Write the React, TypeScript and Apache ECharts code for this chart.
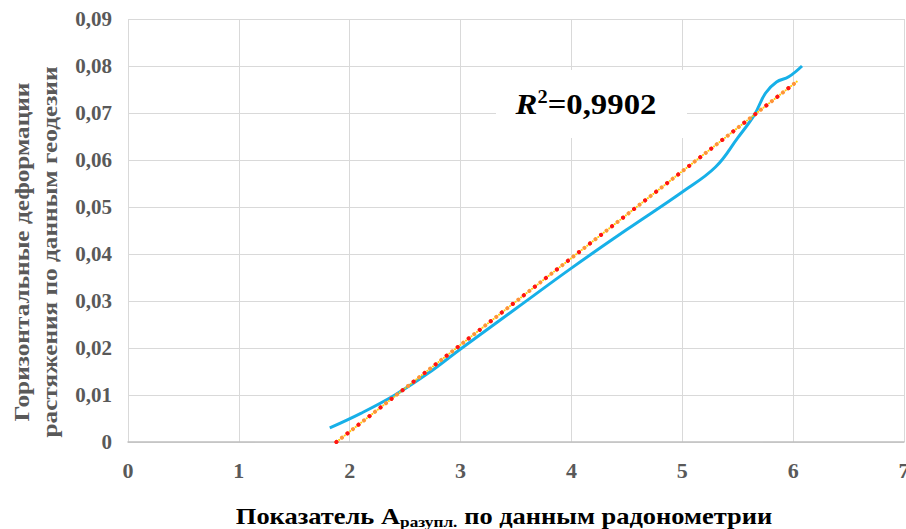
import React, { useEffect, useRef } from "react";
import * as echarts from "echarts";

const xTicks = [0, 1, 2, 3, 4, 5, 6, 7];
const yTicks = [0, 0.01, 0.02, 0.03, 0.04, 0.05, 0.06, 0.07, 0.08, 0.09];

// Measured curve (radiometry index vs. horizontal deformation)
const curveX = [1.82, 2.1, 2.4, 2.7, 3.0, 3.5, 4.0, 4.5, 5.0, 5.3, 5.5, 5.65, 5.75, 5.85, 5.96, 6.08];
const curveY = [0.003, 0.0061, 0.0099, 0.0145, 0.0198, 0.0284, 0.037, 0.0452, 0.0532, 0.0585, 0.0647, 0.0696, 0.0742, 0.0766, 0.0777, 0.08];

// Linear trend line end points
const trendX = [1.88, 6.05];
const trendY = [0, 0.077];

const r2Text = "0,9902";

const FONT = "Liberation Serif";

export default function App() {
  const ref = useRef<HTMLDivElement>(null);
  useEffect(() => {
    if (!ref.current) return;
    const chart = echarts.init(ref.current, null, { renderer: "svg" });
    const curve = curveX.map((x, i) => [x, curveY[i]]);
    const trend = trendX.map((x, i) => [x, trendY[i]]);
    chart.setOption({
      animation: false,
      backgroundColor: "#ffffff",
      grid: { left: 128, right: 2, top: 19, bottom: 87, outerBoundsMode: "none", containLabel: false },
      xAxis: {
        type: "value",
        min: xTicks[0],
        max: xTicks[xTicks.length - 1],
        interval: 1,
        axisLine: { show: true, onZero: false, lineStyle: { color: "#bfbfbf", width: 1.5 } },
        axisTick: { show: false },
        splitLine: { show: true, lineStyle: { color: "#d9d9d9", width: 1 } },
        axisLabel: {
          margin: 17,
          color: "#595959",
          fontFamily: FONT,
          fontWeight: "bold",
          fontSize: 22,
        },
      },
      yAxis: {
        type: "value",
        min: yTicks[0],
        max: yTicks[yTicks.length - 1],
        interval: 0.01,
        axisLine: { show: false },
        axisTick: { show: false },
        splitLine: { show: true, lineStyle: { color: "#d9d9d9", width: 1 } },
        axisLabel: {
          margin: 16,
          color: "#595959",
          fontFamily: FONT,
          fontWeight: "bold",
          fontSize: 21,
          formatter: (v: number) => (v === 0 ? "0" : v.toFixed(2).replace(".", ",")),
        },
      },
      series: [
        {
          type: "line",
          data: curve,
          smooth: 0.4,
          showSymbol: false,
          lineStyle: { color: "#17b0e8", width: 3 },
          z: 2,
        },
        {
          type: "line",
          data: trend,
          showSymbol: false,
          lineStyle: { color: "#ffd200", width: 2, type: [0.1, 3.4], cap: "round" },
          z: 3,
        },
        {
          type: "line",
          data: trend,
          showSymbol: false,
          lineStyle: { color: "#ff9438", width: 4, type: [0.1, 6.9], cap: "round" },
          z: 4,
        },
        {
          type: "line",
          data: trend,
          showSymbol: false,
          lineStyle: { color: "#ff1414", width: 4, type: [0.1, 13.9], cap: "round" },
          z: 5,
        },
      ],
      graphic: [
        {
          type: "rect",
          shape: { x: 496, y: 70, width: 191, height: 68 },
          style: { fill: "#ffffff" },
          z: 10,
        },
        {
          type: "text",
          x: 586,
          y: 104,
          scaleX: 1.13,
          z: 11,
          style: {
            text: "{r|R}{s|2}{n|=" + r2Text + "}",
            align: "center",
            verticalAlign: "middle",
            fontFamily: FONT,
            rich: {
              r: { fontFamily: FONT, fontSize: 29, fontWeight: "bold", fontStyle: "italic", fill: "#000", lineHeight: 32 },
              s: { fontFamily: FONT, fontSize: 18, fontWeight: "bold", fill: "#000", verticalAlign: "top", lineHeight: 18 },
              n: { fontFamily: FONT, fontSize: 29, fontWeight: "bold", fill: "#000", lineHeight: 32 },
            },
          },
        },
        {
          type: "text",
          x: 36,
          y: 252,
          rotation: Math.PI / 2,
          scaleX: 1.15,
          style: {
            text: "Горизонтальные деформации\nрастяжения по данным геодезии",
            align: "center",
            verticalAlign: "middle",
            fontFamily: FONT,
            fontWeight: "bold",
            fontSize: 22,
            lineHeight: 28,
            fill: "#595959",
          },
        },
        {
          type: "text",
          x: 504,
          y: 516,
          scaleX: 1.15,
          style: {
            text: "{a|Показатель A}{b|разупл.}{a| по данным радонометрии}",
            align: "center",
            verticalAlign: "middle",
            fontFamily: FONT,
            rich: {
              a: { fontFamily: FONT, fontSize: 23, fontWeight: "bold", fill: "#000", lineHeight: 26 },
              b: { fontFamily: FONT, fontSize: 15, fontWeight: "bold", fill: "#000", verticalAlign: "bottom", lineHeight: 18 },
            },
          },
        },
      ],
    });
    return () => chart.dispose();
  }, []);
  return <div ref={ref} style={{ width: 906, height: 529, position: "absolute", left: 0, top: 0 }} />;
}
